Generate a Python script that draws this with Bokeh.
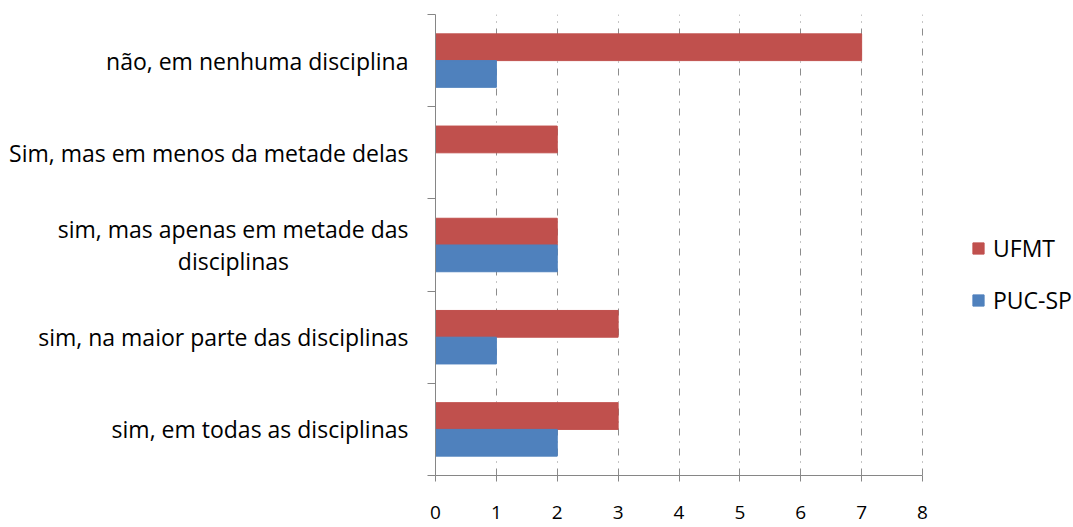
from bokeh.plotting import figure
from bokeh.models import FixedTicker, Legend, LegendItem, ColumnDataSource, Range1d
from bokeh.embed import file_html
from bokeh.resources import INLINE

# data (bottom to top)
categories = [
    "sim, em todas as disciplinas",
    "sim, na maior parte das disciplinas",
    "sim, mas apenas em metade das\ndisciplinas" + "\u00a0" * 20,
    "Sim, mas em menos da metade delas",
    "não, em nenhuma disciplina",
]
ufmt = [3, 3, 2, 2, 7]
puc_sp = [2, 1, 2, 0, 1]
x_ticks = [0, 1, 2, 3, 4, 5, 6, 7, 8]
x_max = 8

FONT = "Open Sans"
FS = "23px"
centers = [i + 0.5 for i in range(len(categories))]
bar_h = 0.29

src_u = ColumnDataSource(dict(y=[c + bar_h / 2 for c in centers], v=ufmt))
src_p = ColumnDataSource(dict(y=[c - bar_h / 2 for c in centers], v=puc_sp))

W, H = 1073, 527
LEFT, RIGHT_AXIS_PX = 435, 922
frame_w = W - LEFT
x_end = x_max * frame_w / (RIGHT_AXIS_PX - LEFT)

p = figure(width=W, height=H, output_backend="svg", toolbar_location=None,
           x_range=Range1d(0, x_end), y_range=Range1d(0, len(categories)),
           min_border_left=LEFT, min_border_right=0, min_border_top=14,
           min_border_bottom=52)
p.outline_line_color = None
p.background_fill_color = "white"
p.border_fill_color = "white"

r_u = p.hbar(y="y", right="v", left=0, height=bar_h, source=src_u,
             fill_color="#C0504D", line_color="#C0504D")
r_p = p.hbar(y="y", right="v", left=0, height=bar_h, source=src_p,
             fill_color="#4F81BD", line_color="#4F81BD")

# x axis
p.xaxis.ticker = FixedTicker(ticks=x_ticks, minor_ticks=[])
p.xaxis.bounds = (0, x_max)
p.xaxis.axis_line_color = "#868686"
p.xaxis.major_tick_line_color = "#868686"
p.xaxis.major_tick_out = 6
p.xaxis.major_tick_in = 0
p.xaxis.minor_tick_line_color = None
p.xaxis.major_label_standoff = 24
p.xaxis.major_label_text_font = FONT
p.xaxis.major_label_text_font_size = "19px"
p.xaxis.major_label_text_color = "#000000"

# y axis
p.yaxis.ticker = FixedTicker(ticks=centers, minor_ticks=list(range(len(categories) + 1)))
p.yaxis.major_label_overrides = {c: lab for c, lab in zip(centers, categories)}
p.yaxis.axis_line_color = "#868686"
p.yaxis.major_tick_line_color = None
p.yaxis.major_tick_out = 0
p.yaxis.major_tick_in = 0
p.yaxis.minor_tick_line_color = "#868686"
p.yaxis.minor_tick_out = 8
p.yaxis.minor_tick_in = 0
p.yaxis.major_label_standoff = 19
p.yaxis.major_label_text_font = FONT
p.yaxis.major_label_text_font_size = FS
p.yaxis.major_label_text_color = "#000000"
p.yaxis.major_label_text_line_height = 1.0

# grid
p.ygrid.grid_line_color = None
p.xgrid.ticker = FixedTicker(ticks=x_ticks[1:])
p.xgrid.grid_line_color = "#8c8c8c"
p.xgrid.grid_line_dash = "7 6 1 6"
p.xgrid.grid_line_width = 1

legend = Legend(items=[LegendItem(label="UFMT", renderers=[r_u]),
                       LegendItem(label="PUC-SP", renderers=[r_p])],
                location=(536, 159), orientation="vertical")
legend.border_line_color = None
legend.background_fill_alpha = 0
legend.label_text_font = FONT
legend.label_text_font_size = FS
legend.label_text_color = "#000000"
legend.glyph_width = 14
legend.glyph_height = 14
legend.label_standoff = 8
legend.spacing = 20
legend.label_height = 20
legend.padding = 0
legend.margin = 0
p.add_layout(legend, "center")

open("out.html", "w").write(file_html(p, INLINE))
